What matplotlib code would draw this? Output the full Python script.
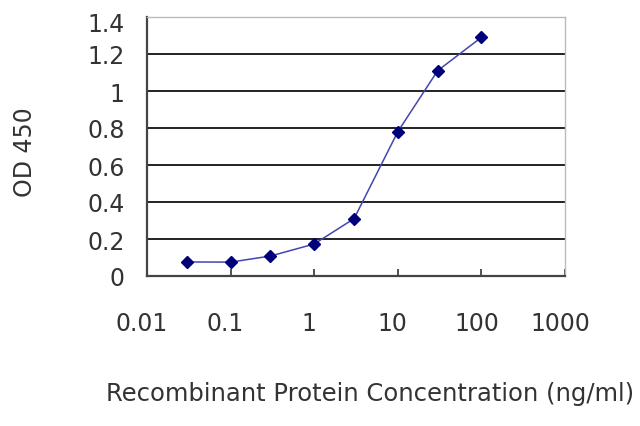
import matplotlib.pyplot as plt
import matplotlib.transforms as mtransforms
from matplotlib.ticker import FixedLocator, NullLocator

plt.rcParams['font.family'] = ['DejaVu Sans']

# Data
conc = [0.03, 0.1, 0.3, 1, 3, 10, 30, 100]
od450 = [0.076, 0.075, 0.108, 0.173, 0.31, 0.78, 1.11, 1.29]
x_ticks = [0.01, 0.1, 1, 10, 100, 1000]
x_tick_labels = ["0.01", "0.1", "1", "10", "100", "1000"]
y_ticks = [0, 0.2, 0.4, 0.6, 0.8, 1, 1.2, 1.4]
y_tick_labels = ["0", "0.2", "0.4", "0.6", "0.8", "1", "1.2", "1.4"]

fig = plt.figure(figsize=(6.4, 4.27), dpi=100)
ax = fig.add_axes([147 / 640, 1 - 277 / 427, (565 - 147) / 640, (277 - 18) / 427])

ax.plot(conc, od450, color="#4545b0", linewidth=1.1,
        marker="D", markersize=6.5, markerfacecolor="#00007a",
        markeredgecolor="#00007a", zorder=3)

ax.set_xscale("log")
ax.set_xlim(0.01, 1000)
ax.set_ylim(0, 1.4)

# Horizontal gridlines
for y in y_ticks[1:-1]:
    ax.axhline(y, color="#222222", linewidth=1.4, zorder=1)

ax.xaxis.set_major_locator(FixedLocator(x_ticks))
ax.xaxis.set_minor_locator(NullLocator())
ax.set_xticks(x_ticks)
ax.set_xticklabels(x_tick_labels)
ax.set_yticks(y_ticks)
ax.set_yticklabels(y_tick_labels)

ax.tick_params(axis="x", direction="in", length=5, width=1.2, color="#333333",
               labelsize=17, pad=25, labelcolor="#333333")
ax.tick_params(axis="y", length=0, labelsize=17, pad=16, labelcolor="#333333")

# shift x tick labels slightly left, as in the original
shift = mtransforms.ScaledTranslation(-5 / 100, 0, fig.dpi_scale_trans)
for lbl in ax.get_xticklabels():
    lbl.set_transform(lbl.get_transform() + shift)
# top label sits a little lower in the original
ax.get_yticklabels()[-1].set_transform(
    ax.get_yticklabels()[-1].get_transform()
    + mtransforms.ScaledTranslation(0, -5 / 100, fig.dpi_scale_trans))

for side in ["left", "bottom"]:
    ax.spines[side].set_color("#444444")
    ax.spines[side].set_linewidth(1.6)
for side in ["top", "right"]:
    ax.spines[side].set_color("#bbbbbb")
    ax.spines[side].set_linewidth(1.0)

fig.text(370 / 640, 1 - 394 / 427, "Recombinant Protein Concentration (ng/ml)",
         fontsize=17.5, color="#333333", ha="center", va="center")
fig.text(25 / 640, 1 - 152 / 427, "OD 450", fontsize=17, color="#333333",
         ha="center", va="center", rotation=90)

plt.savefig("out.png", dpi=100)
